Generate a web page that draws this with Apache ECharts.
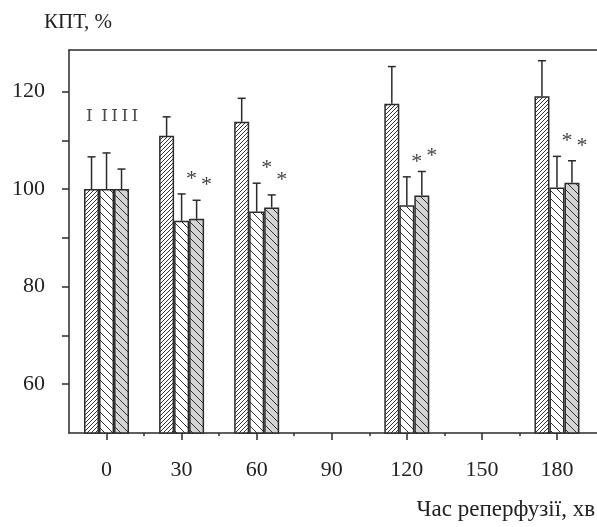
<!DOCTYPE html>
<html>
<head>
<meta charset="utf-8">
<script src="https://cdn.jsdelivr.net/npm/echarts@6/dist/echarts.min.js"></script>
<style>
  html, body { margin: 0; padding: 0; background: #fff; }
  #chart { width: 597px; height: 527px; }
</style>
</head>
<body>
<div id="chart"></div>
<script>
// reperfusion time, min
const times = [0, 30, 60, 120, 180];

// group I
const meanI = [100, 110.9, 113.8, 117.5, 119.0];
const upperI = [106.6, 114.8, 118.6, 125.1, 126.3];
// group II
const meanII = [100, 93.5, 95.4, 96.7, 100.3];
const upperII = [107.4, 99.0, 101.2, 102.5, 106.7];
// group III
const meanIII = [100, 93.9, 96.2, 98.7, 101.3];
const upperIII = [104.1, 97.7, 98.8, 103.6, 105.8];

const starsI = [false, false, false, false, false];
const starsII = [false, true, true, true, true];
const starsIII = [false, true, true, true, true];

const xTickLabels = [0, 30, 60, 90, 120, 150, 180];
const xMinorTicks = [15, 45, 75, 105, 135, 165];
const yTickLabels = [60, 80, 100, 120];
const yTicks = [60, 70, 80, 90, 100, 110, 120];

const INK = '#2b2b2b';
const FONT = 'Liberation Serif, Times New Roman, serif';
const BAR_W = 15;

// striped fill tile; dir > 0 is "/", otherwise "\"
const hatch = (size, dir, bg, lw) => {
  const c = document.createElement('canvas');
  c.width = size;
  c.height = size;
  const g = c.getContext('2d');
  g.fillStyle = bg;
  g.fillRect(0, 0, size, size);
  g.strokeStyle = '#333';
  g.lineWidth = lw;
  g.beginPath();
  for (const k of [-size, 0, size]) {
    if (dir > 0) {
      g.moveTo(k, size);
      g.lineTo(k + size, 0);
    } else {
      g.moveTo(k, 0);
      g.lineTo(k + size, size);
    }
  }
  g.stroke();
  return { image: c, repeat: 'repeat' };
};

const barSeries = (name, mean, fill) => ({
  name,
  type: 'bar',
  data: times.map((t, i) => [t, mean[i]]),
  barWidth: BAR_W,
  barGap: '0%',
  clip: true,
  silent: true,
  itemStyle: { color: fill, borderColor: INK, borderWidth: 1.5 },
});

const errorSeries = (idx, mean, upper, stars) => ({
  type: 'custom',
  silent: true,
  clip: false,
  z: 5,
  data: times.map((t, i) => [t, mean[i], upper[i], stars[i] ? 1 : 0]),
  encode: { x: 0, y: 1 },
  renderItem: (params, api) => {
    const base = api.coord([api.value(0), api.value(1)]);
    const top = api.coord([api.value(0), api.value(2)]);
    const cx = base[0] + (idx - 1) * BAR_W;
    const stroke = { stroke: INK, lineWidth: 1.5 };
    const children = [
      { type: 'line', shape: { x1: cx, y1: base[1], x2: cx, y2: top[1] }, style: stroke },
      { type: 'line', shape: { x1: cx - 4, y1: top[1], x2: cx + 4, y2: top[1] }, style: stroke },
    ];
    if (api.value(3)) {
      children.push({
        type: 'text',
        x: cx + 10,
        y: top[1] - 15,
        style: {
          text: '*',
          fill: '#444',
          font: '22px ' + FONT,
          align: 'center',
          verticalAlign: 'middle',
        },
      });
    }
    return { type: 'group', children };
  },
});

const chart = echarts.init(document.getElementById('chart'));

chart.setOption({
  animation: false,
  backgroundColor: '#fff',
  grid: { left: 69, right: 0, top: 50, bottom: 94 },
  xAxis: [
    {
      type: 'value',
      min: -15,
      max: 196,
      splitLine: { show: false },
      axisLine: { show: true, onZero: false, lineStyle: { color: INK, width: 1.5 } },
      axisTick: { show: true, length: 7, customValues: xTickLabels, lineStyle: { color: INK, width: 1.5 } },
      axisLabel: {
        customValues: xTickLabels,
        margin: 26,
        color: '#222',
        fontFamily: FONT,
        fontSize: 22,
      },
    },
    {
      type: 'value',
      position: 'bottom',
      min: -15,
      max: 196,
      splitLine: { show: false },
      axisLine: { show: false, onZero: false },
      axisTick: { show: true, length: 3, customValues: xMinorTicks, lineStyle: { color: INK, width: 1.5 } },
      axisLabel: { show: false },
    },
    {
      type: 'value',
      position: 'top',
      min: -15,
      max: 196,
      splitLine: { show: false },
      axisLine: { show: true, onZero: false, lineStyle: { color: INK, width: 1.5 } },
      axisTick: { show: false },
      axisLabel: { show: false },
    },
  ],
  yAxis: {
    type: 'value',
    min: 50,
    max: 128.5,
    splitLine: { show: false },
    axisLine: { show: true, onZero: false, lineStyle: { color: INK, width: 1.5 } },
    axisTick: { show: true, length: 7, customValues: yTicks, lineStyle: { color: INK, width: 1.5 } },
    axisLabel: {
      customValues: yTickLabels,
      margin: 24,
      color: '#222',
      fontFamily: FONT,
      fontSize: 22,
    },
  },
  graphic: [
    {
      type: 'text',
      left: 44,
      top: 12,
      style: { text: 'КПТ, %', fill: '#222', font: '21px ' + FONT },
    },
    {
      type: 'text',
      right: 2,
      top: 498,
      style: { text: 'Час реперфузії, хв', fill: '#222', font: '23px ' + FONT },
    },
    {
      type: 'text',
      left: 86,
      top: 108,
      style: { text: 'I\u2002I\u2009I\u2009I\u2009I', fill: '#4a4a4a', font: '17px DejaVu Serif, serif' },
    },
  ],
  series: [
    barSeries('I', meanI, hatch(4, 1, '#fff', 1)),
    barSeries('II', meanII, hatch(8, -1, '#fff', 1)),
    barSeries('III', meanIII, hatch(8, -1, '#d4d4d4', 1)),
    errorSeries(0, meanI, upperI, starsI),
    errorSeries(1, meanII, upperII, starsII),
    errorSeries(2, meanIII, upperIII, starsIII),
  ],
});

window.addEventListener('resize', () => chart.resize());
</script>
</body>
</html>
